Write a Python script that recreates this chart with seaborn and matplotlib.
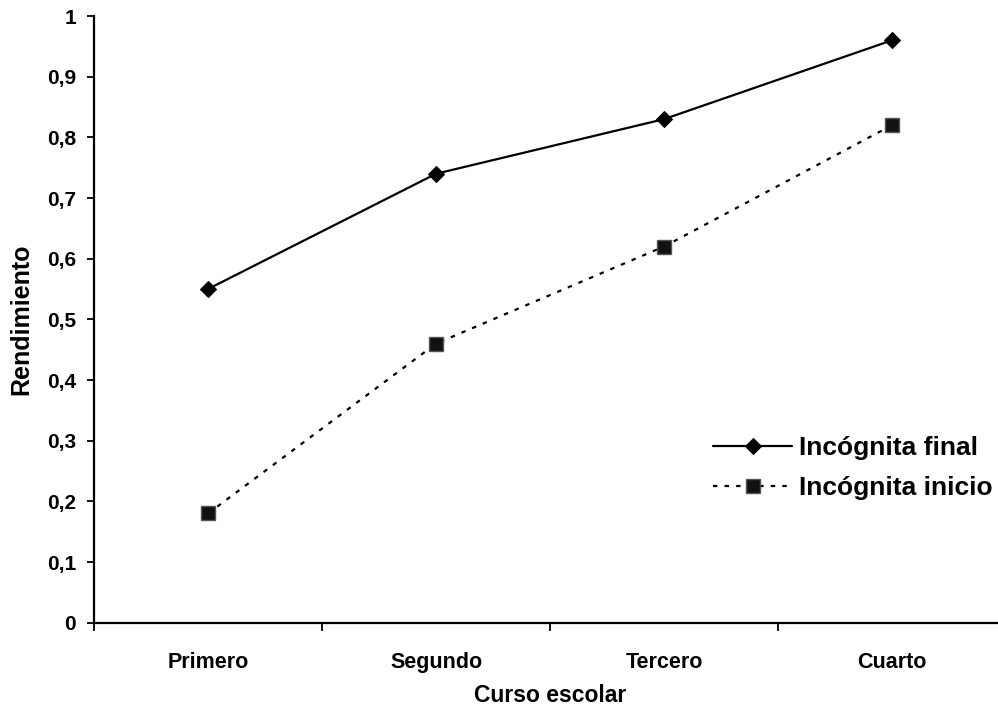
import matplotlib
matplotlib.use("Agg")
import matplotlib.pyplot as plt
import matplotlib.ticker as mticker
import seaborn as sns
import pandas as pd

# Rendimiento medio por curso escolar, según la posición de la incógnita
cursos = ["Primero", "Segundo", "Tercero", "Cuarto"]
incognita_final = [0.55, 0.74, 0.83, 0.96]
incognita_inicio = [0.18, 0.46, 0.62, 0.82]
y_ticks = [0, 0.1, 0.2, 0.3, 0.4, 0.5, 0.6, 0.7, 0.8, 0.9, 1.0]

df_final = pd.DataFrame({"curso": cursos, "rendimiento": incognita_final})
df_inicio = pd.DataFrame({"curso": cursos, "rendimiento": incognita_inicio})

sns.set_theme(style="white")
plt.rcParams["font.family"] = ["Liberation Sans", "DejaVu Sans"]
plt.rcParams["font.weight"] = "bold"

fig = plt.figure(figsize=(9.98, 7.06), dpi=100)
ax = fig.add_axes([0.0942, 0.118, 0.9138, 0.8593])

sns.lineplot(data=df_final, x="curso", y="rendimiento", ax=ax, sort=False,
             color="black", linewidth=1.6, marker="D", markersize=8,
             markerfacecolor="black", markeredgecolor="black",
             label="Incógnita final")
sns.lineplot(data=df_inicio, x="curso", y="rendimiento", ax=ax, sort=False,
             color="black", linewidth=1.6, linestyle=(0, (2, 3.2)),
             marker="s", markersize=9.5, markerfacecolor="#111111",
             markeredgecolor="#555555", markeredgewidth=1.0,
             label="Incógnita inicio")

ax.set_xlim(-0.5, 3.5)
ax.set_ylim(0, 1)

# major ticks sit between categories, labels sit on the categories
ax.xaxis.set_major_locator(mticker.FixedLocator([-0.5, 0.5, 1.5, 2.5, 3.5]))
ax.xaxis.set_major_formatter(mticker.NullFormatter())
ax.xaxis.set_minor_locator(mticker.FixedLocator(range(len(cursos))))
ax.xaxis.set_minor_formatter(mticker.FixedFormatter(cursos))
ax.tick_params(axis="x", which="major", direction="out", length=6, width=1.3,
               color="black", bottom=True)
ax.tick_params(axis="x", which="minor", length=0, pad=21, labelsize=15.5,
               labelcolor="black")

ax.set_yticks(y_ticks)
ax.yaxis.set_major_formatter(mticker.FuncFormatter(
    lambda v, p: "0" if v == 0 else ("1" if v == 1 else f"{v:.1f}".replace(".", ","))))
ax.tick_params(axis="y", direction="out", length=5, width=1.3, pad=8,
               labelsize=15, color="black", labelcolor="black", left=True)
for lab in ax.get_xticklabels(minor=True) + ax.get_yticklabels():
    lab.set_fontweight("bold")

for side in ["top", "right"]:
    ax.spines[side].set_visible(False)
for side in ["left", "bottom"]:
    ax.spines[side].set_color("black")
    ax.spines[side].set_linewidth(1.6)

ax.set_xlabel("Curso escolar", fontsize=16.5, fontweight="bold", color="black")
ax.set_ylabel("Rendimiento", fontsize=18, fontweight="bold", color="black")
ax.xaxis.label.set_va("baseline")
ax.xaxis.set_label_coords(0.5, -0.131)
ax.yaxis.set_label_coords(-0.066, 0.5)

leg = ax.legend(loc="center left", bbox_to_anchor=(713 / 998, (706 - 468) / 706),
                bbox_transform=fig.transFigure, frameon=False, borderpad=0,
                borderaxespad=0, handlelength=3.0, handletextpad=0.25,
                labelspacing=0.6, prop={"size": 19, "weight": "bold"})
for t in leg.get_texts():
    t.set_color("black")

fig.savefig("out.png", dpi=100, facecolor="white")
